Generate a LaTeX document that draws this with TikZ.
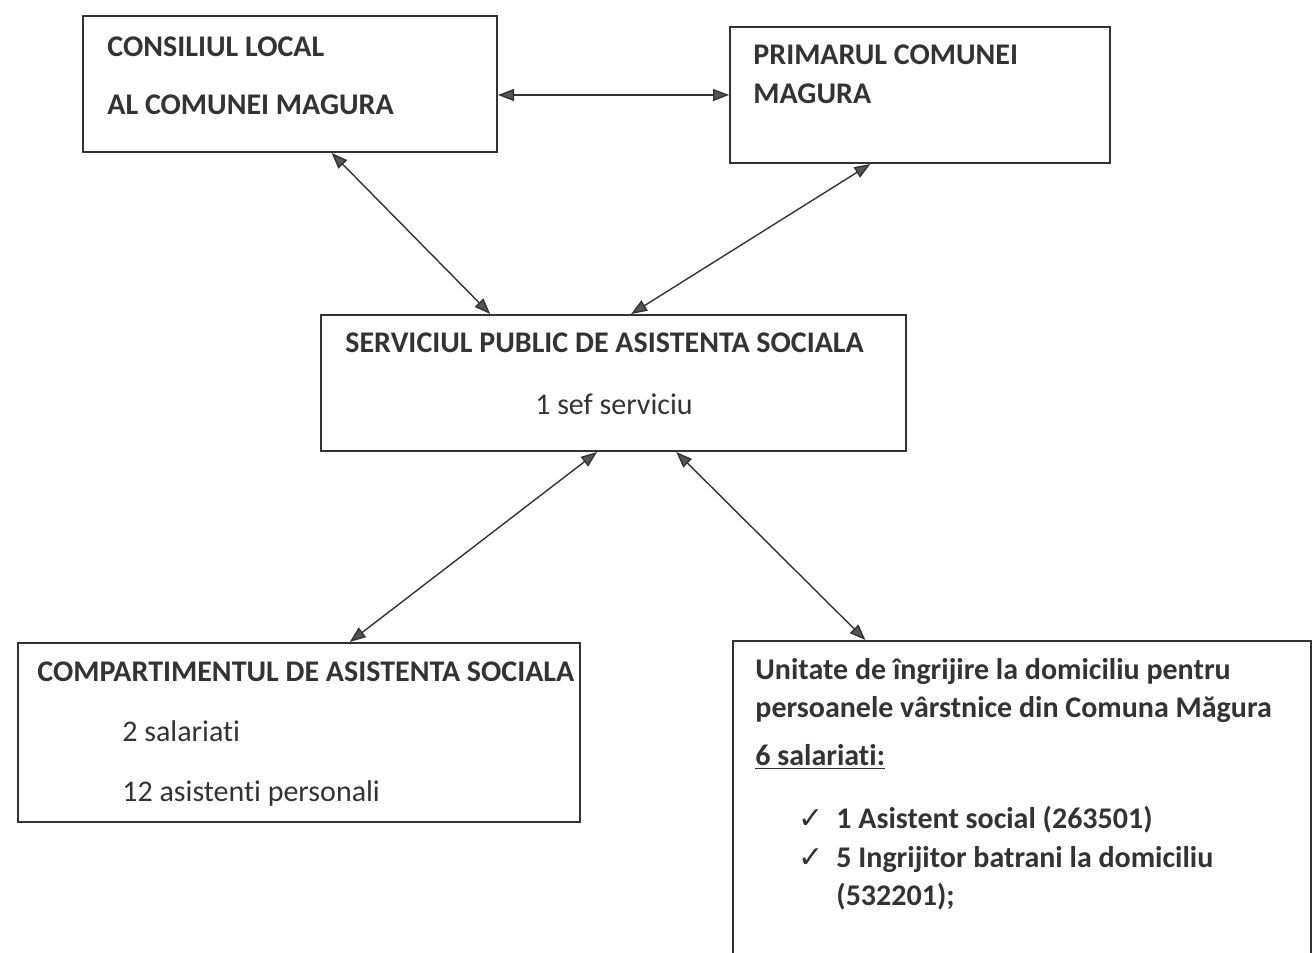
\documentclass[tikz,border=0pt]{standalone}
\usepackage{fontspec}
\setmainfont[Ligatures=CommonOff]{Carlito}
\newfontfamily\symfont{DejaVu Sans}
\usetikzlibrary{fit,calc,arrows.meta}
\definecolor{ink}{HTML}{333333}
\definecolor{tipgray}{HTML}{555555}

\begin{document}
\begin{tikzpicture}[x=0.5pt,y=-0.5pt,
  box/.style={draw=ink, line width=1pt, inner sep=0pt},
  txt/.style={anchor=base west, inner sep=0pt, text=ink, font=\fontsize{15}{18}\selectfont},
  head/.style={txt, font=\fontsize{15}{18}\selectfont\bfseries},
  link/.style={draw=ink, line width=0.7pt,
    {Triangle[length=8pt,width=6pt,fill=tipgray]}-{Triangle[length=8pt,width=6pt,fill=tipgray]}}]
\useasboundingbox (0,0) rectangle (1313,953);
\clip (0,0) rectangle (1313,953);

\node[box, fit={(83,16) (497,152)}] (1) {};
\node[box, fit={(730,27) (1110,163)}] (2) {};
\node[box, fit={(321,315) (906,451)}] (3) {};
\node[box, fit={(18,643) (580,822)}] (4) {};
\node[box, fit={(733,641) (1311,990)}] (5) {};

\node[head] (1a) at (107,56) {CONSILIUL LOCAL};
\node[head] (1b) at (107,114) {AL COMUNEI MAGURA};
\node[head] (2a) at (753,64) {PRIMARUL COMUNEI};
\node[head] (2b) at (753,103) {MAGURA};
\node[head] (3a) at (345,352) {SERVICIUL PUBLIC DE ASISTENTA SOCIALA};
\node[txt, anchor=base] (3b) at (614,414) {1 sef serviciu};
\node[head] (4a) at (37,681) {COMPARTIMENTUL DE ASISTENTA SOCIALA};
\node[txt] (4b) at (122,741) {2 salariati};
\node[txt] (4c) at (122,801) {12 asistenti personali};
\node[head] (5a) at (755,679) {Unitate de îngrijire la domiciliu pentru};
\node[head] (5b) at (755,717) {persoanele vârstnice din Comuna Măgura};
\node[head] (5c) at (755,765) {\underline{6 salariati:}};
\node[txt] (5d) at (798,828) {\symfont ✓};
\node[head] (5e) at (836,828) {1 Asistent social (263501)};
\node[txt] (5f) at (798,867) {\symfont ✓};
\node[head] (5g) at (836,867) {5 Ingrijitor batrani la domiciliu};
\node[head] (5h) at (836,905) {(532201);};

\path[link] (1.east |- 2.west) -- (2.west);
\path[link] ($(1.south west)!0.6!(1.south east)$) -- ($(3.north west)!0.29!(3.north east)$);
\path[link] ($(2.south west)!0.37!(2.south east)$) -- ($(3.north west)!0.53!(3.north east)$);
\path[link] ($(3.south west)!0.472!(3.south east)$) -- ($(4.north west)!0.59!(4.north east)$);
\path[link] ($(3.south west)!0.607!(3.south east)$) -- ($(5.north west)!0.23!(5.north east)$);
\end{tikzpicture}
\end{document}
